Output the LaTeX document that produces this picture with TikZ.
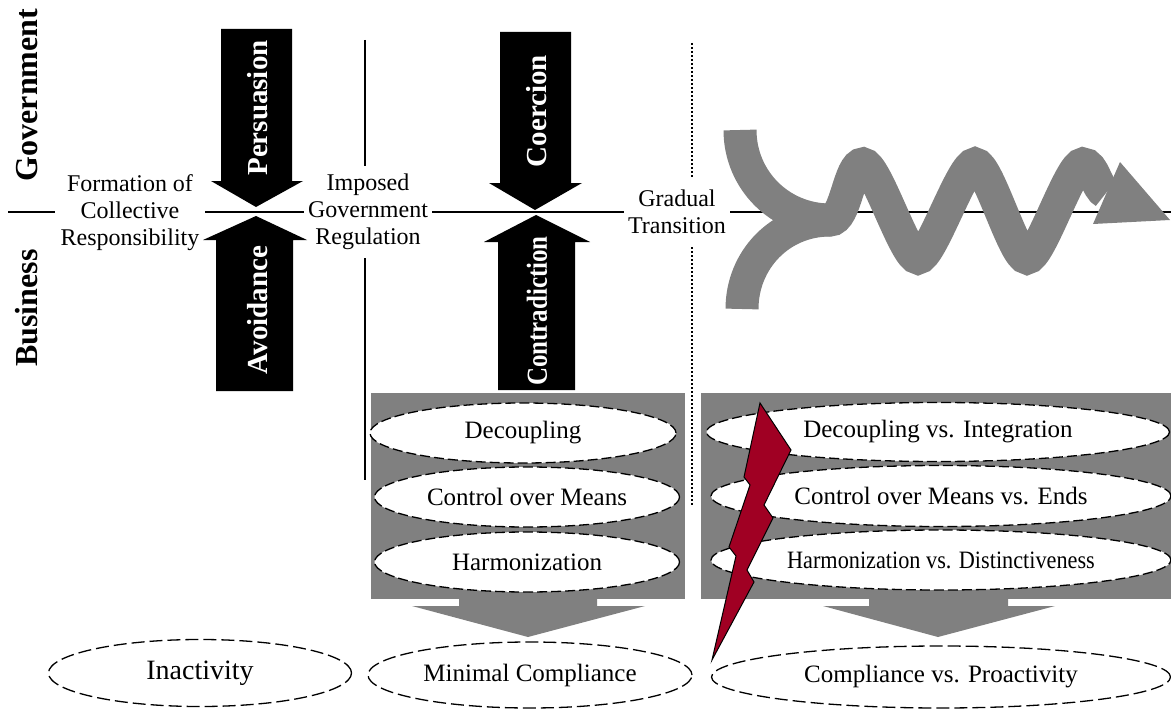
\documentclass[tikz,border=0pt]{standalone}
\usepackage{fontspec}
\setmainfont{Liberation Serif}
\usepackage{graphicx}
\usetikzlibrary{shapes.geometric}
\definecolor{panelgray}{RGB}{128,128,128}
\definecolor{boltred}{RGB}{160,0,35}
\tikzset{lbl/.style = {fill=white, align=center, inner xsep=4pt, inner ysep=8pt, font=\fontsize{24}{27}\selectfont}}
\tikzset{side/.style = {rotate=90, inner sep=0pt, font=\bfseries\fontsize{32}{36}\selectfont}}
\tikzset{armtext/.style = {rotate=90, text=white, inner sep=0pt, font=\bfseries\fontsize{29}{31}\selectfont}}
\tikzset{item/.style = {ellipse, draw=black, fill=white, line width=1.3pt, dash pattern=on 10pt off 4pt, inner sep=0pt, minimum height=60pt, font=\fontsize{25}{28}\selectfont}}
\tikzset{outcome/.style = {ellipse, draw=black, line width=1.3pt, dash pattern=on 13pt off 5pt, inner sep=0pt, minimum height=66pt, font=\fontsize{25}{28}\selectfont}}

\begin{document}
\begin{tikzpicture}[x=1pt, y=-1pt]
    \useasboundingbox (0,0) rectangle (1171,709);

    % axis and separators
    \coordinate (axis-w)   at (8,212);
    \coordinate (axis-e)   at (1171,212);
    \coordinate (sep1-top) at (365,40);
    \coordinate (sep1-bot) at (365,480);
    \coordinate (sep2-top) at (692,43);
    \coordinate (sep2-bot) at (692,505);
    \draw [line width=1.5pt] (axis-w) -- (axis-e);
    \draw [line width=1.5pt] (sep1-top) -- (sep1-bot);
    \draw [line width=2pt, dash pattern=on 2pt off 2pt] (sep2-top) -- (sep2-bot);

    \node [side] (gov) at (27,95)  {Government};
    \node [side] (bus) at (27,308) {Business};

    \node [lbl, inner xsep=6pt]  (form)    at (130,213) {Formation of\\Collective\\Responsibility};
    \node [lbl]                  (imposed) at (368,212) {Imposed\\Government\\Regulation};
    \node [lbl, inner ysep=12pt] (gradual) at (677,212) {Gradual\\Transition};

    % black arrows
    \fill (221,29)  -- (292,29)  -- (292,181) -- (303,181) -- (256,207) -- (211,181) -- (221,181) -- cycle;
    \fill (216,391) -- (293,391) -- (293,240) -- (307,240) -- (256,216) -- (203,240) -- (216,240) -- cycle;
    \fill (500,32)  -- (571,32)  -- (571,183) -- (582,183) -- (535,210) -- (489,183) -- (500,183) -- cycle;
    \fill (498,390) -- (575,390) -- (575,242) -- (590,242) -- (536,215) -- (484,242) -- (498,242) -- cycle;

    \node [armtext] (pers)   at (258,108) {Persuasion};
    \node [armtext] (avoid)  at (258,310) {Avoidance};
    \node [armtext] (coer)   at (537,111) {Coercion};
    \node [armtext] (contra) at (537,311) {\scalebox{0.86}[1]{Contradiction}};

    % panels
    \fill [panelgray] (371,393) rectangle (685,599);
    \fill [panelgray] (701,393) rectangle (1171,599);
    \fill [panelgray] (459,598) -- (597,598) -- (597,606) -- (645,606) -- (528,637) -- (412,606) -- (459,606) -- cycle;
    \fill [panelgray] (869,598) -- (1008,598) -- (1008,606) -- (1055,606) -- (938,637) -- (823,606) -- (869,606) -- cycle;

    \node [item, minimum width=306pt] (dec)  at (523,433) {Decoupling};
    \node [item, minimum width=305pt] (ctrl) at (527,497) {Control over Means};
    \node [item, minimum width=305pt] (harm) at (527,562) {Harmonization};

    \node [item, minimum width=463pt, minimum height=59pt] (decint)   at (938,432) {Decoupling vs. Integration};
    \node [item, minimum width=460pt, minimum height=61pt] (ctrlends) at (941,496) {Control over Means vs. Ends};
    \node [item, minimum width=460pt]                      (harmdist) at (941,560) {\scalebox{0.89}[1]{Harmonization vs. Distinctiveness}};

    \node [outcome, minimum width=303pt, minimum height=67pt, font=\fontsize{28}{30}\selectfont] (inact) at (200,673) {Inactivity};
    \node [outcome, minimum width=324pt]                      (minimal) at (530,675) {Minimal Compliance};
    \node [outcome, minimum width=459pt, minimum height=62pt] (proact)  at (941,677) {Compliance vs. Proactivity};

    % wave
    \draw [panelgray, line width=33pt] (742,309) .. controls (742,260) and (780,220) .. (830,220);
    \draw [panelgray, line width=33pt] (740,130) .. controls (740,180) and (780,220) .. (830,220)
        .. controls (846,220) and (849,164) .. (863,164)
        .. controls (876,164) and (905,258) .. (918,258)
        .. controls (931,258) and (962,164) .. (975,164)
        .. controls (988,164) and (1014,258) .. (1027,258)
        .. controls (1040,258) and (1070,164) .. (1083,164)
        .. controls (1094,164) and (1096,188) .. (1106,193);
    \fill [panelgray] (1120,162) -- (1170,220) -- (1093,224) -- cycle;

    % bolt
    \filldraw [fill=boltred, draw=black, line width=1pt] (760,403) -- (791,450) -- (764,505) -- (773,518) -- (747,570) -- (754,582)
        -- (712,660) -- (736,556) -- (729,547) -- (750,485) -- (744,477) -- cycle;
\end{tikzpicture}
\end{document}
